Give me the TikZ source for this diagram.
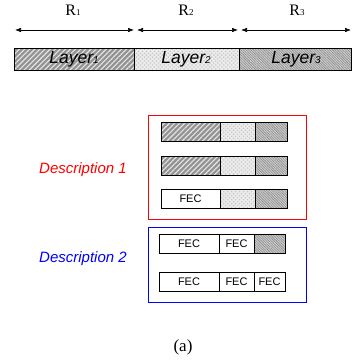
\documentclass[tikz,border=0pt]{standalone}
\usepackage{fontspec}
\setmainfont{Liberation Serif}
\setsansfont{Liberation Sans}
\usetikzlibrary{patterns,patterns.meta,arrows.meta}
\tikzset{
  hatchA/.style={fill=gray!85, postaction={pattern={Lines[angle=45,distance=3.6pt,line width=1.1pt]}, pattern color=white!80!gray}},
  hatchB/.style={fill=gray!15, postaction={pattern={Dots[radius=0.9pt,distance=2.8pt,angle=45]}, pattern color=gray!45}},
  hatchC/.style={fill=gray!40, postaction={pattern={Lines[angle=-45,distance=1.8pt,line width=0.6pt]}, pattern color=gray!90}},
  seg/.style={draw=black, line width=0.6pt},
  fec/.style={font=\sffamily\fontsize{11}{12}\selectfont},
  lay/.style={font=\sffamily\itshape\fontsize{17.5}{19}\selectfont},
  dim/.style={{Latex[length=6pt,width=4.5pt]}-{Latex[length=6pt,width=4.5pt]}, line width=0.6pt},
  desc/.style={font=\sffamily\itshape\fontsize{15}{17}\selectfont},
}
\newcommand{\sm}[1]{{\fontsize{10}{11}\selectfont #1}}
\newcommand{\smr}[1]{{\fontsize{9}{10}\selectfont #1}}
\begin{document}
\begin{tikzpicture}[x=1pt,y=-1pt]
\useasboundingbox (0,0) rectangle (352,364);

% rate labels and dimension arrows
\node (r1) at (73,10) {\fontsize{16}{18}\selectfont R\smr{1}};
\node (r2) at (186,10) {\fontsize{16}{18}\selectfont R\smr{2}};
\node (r3) at (297,10) {\fontsize{16}{18}\selectfont R\smr{3}};
\coordinate (a0) at (15,30);
\coordinate (a1) at (134,30);
\coordinate (a2) at (137,30);
\coordinate (a3) at (238,30);
\coordinate (a4) at (241,30);
\coordinate (a5) at (351,30);
\draw[dim] (a0) -- (a1);
\draw[dim] (a2) -- (a3);
\draw[dim] (a4) -- (a5);

% layered stream
\path[hatchA] (14,48) rectangle (134,70);
\path[hatchB] (134,48) rectangle (239,70);
\path[hatchC] (239,48) rectangle (352,70);
\draw[seg] (14,48) rectangle (351.6,70);
\draw[seg] (134,48) -- (134,70);
\draw[seg] (239,48) -- (239,70);
\node[lay] (l1) at (74,59) {Layer\sm{1}};
\node[lay] (l2) at (186,59) {Layer\sm{2}};
\node[lay] (l3) at (296,59) {Layer\sm{3}};

% description 1
\node[desc, text=red] (d1) at (83,170) {Description 1};
\draw[red, line width=0.9pt] (148.5,115.5) rectangle (306,219);
\path[hatchA] (161,122) rectangle (220,141);
\path[hatchB] (220,122) rectangle (255,141);
\path[hatchC] (255,122) rectangle (287,141);
\draw[seg] (161,122) rectangle (287,141) (220,122) -- (220,141) (255,122) -- (255,141);
\path[hatchA] (161,156) rectangle (220,175);
\path[hatchB] (220,156) rectangle (255,175);
\path[hatchC] (255,156) rectangle (287,175);
\draw[seg] (161,156) rectangle (287,175) (220,156) -- (220,175) (255,156) -- (255,175);
\path[hatchB] (220,189) rectangle (255,208);
\path[hatchC] (255,189) rectangle (287,208);
\draw[seg] (161,189) rectangle (287,208) (220,189) -- (220,208) (255,189) -- (255,208);
\node[fec] (f1) at (190.5,198.5) {FEC};

% description 2
\node[desc, text=blue] (d2) at (83,259) {Description 2};
\draw[blue, line width=0.9pt] (148.5,227.5) rectangle (306,302);
\path[hatchC] (254,234) rectangle (285,253);
\draw[seg] (159,234) rectangle (285,253) (219,234) -- (219,253) (254,234) -- (254,253);
\node[fec] (f2) at (189,243.5) {FEC};
\node[fec] (f3) at (236.5,243.5) {FEC};
\draw[seg] (159,272) rectangle (285,291) (219,272) -- (219,291) (254,272) -- (254,291);
\node[fec] (f4) at (189,281.5) {FEC};
\node[fec] (f5) at (236.5,281.5) {FEC};
\node[fec] (f6) at (269.5,281.5) {FEC};

\node (cap) at (183,347) {\fontsize{17}{19}\selectfont (a)};
\end{tikzpicture}
\end{document}
